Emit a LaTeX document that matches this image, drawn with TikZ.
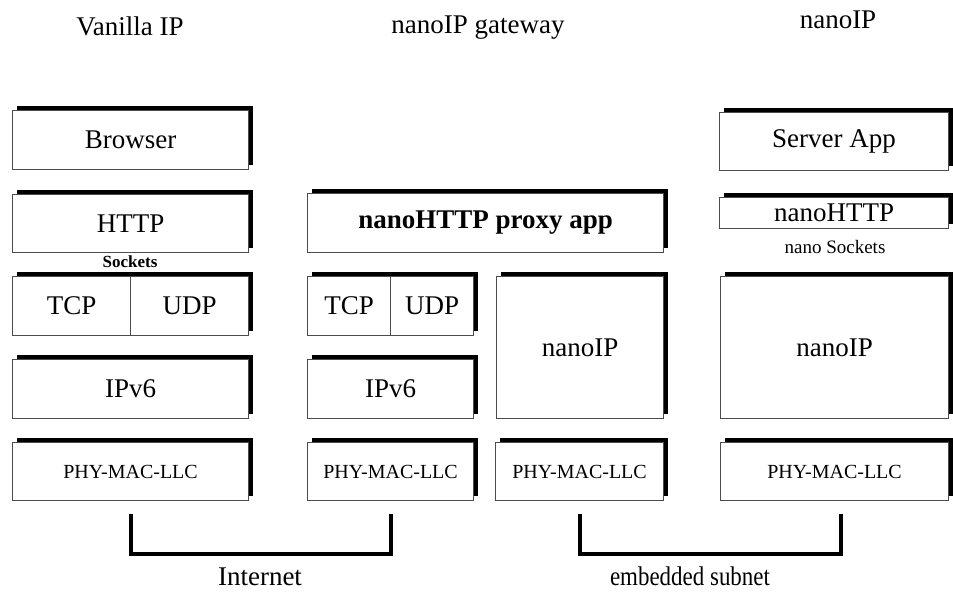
\documentclass[tikz,border=0pt]{standalone}
\usepackage{fontspec}
\setmainfont{Liberation Serif}
\usetikzlibrary{shadows,calc}

\tikzset{
  layer/.style={draw=black!70, line width=1.1pt, fill=white, inner sep=0pt,
    anchor=north west,
    general shadow={fill=black, shadow xshift=4pt, shadow yshift=5pt},
    font=\fontsize{27}{30}\selectfont},
  small layer/.style={layer, font=\fontsize{20}{24}\selectfont},
  heading/.style={font=\fontsize{27}{30}\selectfont, inner sep=0pt, anchor=base},
  tag/.style={inner sep=0pt},
  bracket/.style={line width=4pt, line join=miter}
}

\begin{document}
\begin{tikzpicture}[x=1pt, y=-1pt]
\useasboundingbox (0,0) rectangle (953,592);

% column headings
\node[heading] (h1) at (130,35) {Vanilla IP};
\node[heading] (h2) at (478,33) {nanoIP gateway};
\node[heading] (h3) at (838,28) {nanoIP};

% Vanilla IP stack
\node[layer, minimum width=236pt, minimum height=59pt] (browser) at (12,110) {Browser};
\node[layer, minimum width=236pt, minimum height=58pt] (http) at (12,194) {HTTP};
\node[tag, font=\fontsize{17}{20}\bfseries] (sock) at (130,262) {Sockets};
\node[layer, minimum width=118pt, minimum height=59pt] (tcpa) at (12,276) {TCP};
\node[layer, minimum width=118pt, minimum height=59pt] (udpa) at (130,276) {UDP};
\node[layer, minimum width=236pt, minimum height=59pt] (ipva) at (12,359) {IPv6};
\node[small layer, minimum width=236pt, minimum height=58pt] (phya) at (12,442) {PHY-MAC-LLC};

% gateway stack
\node[layer, minimum width=356pt, minimum height=59pt, font=\fontsize{27}{30}\bfseries] (proxy) at (307,193) {nanoHTTP proxy app};
\node[layer, minimum width=83pt, minimum height=59pt] (tcpb) at (307,276) {TCP};
\node[layer, minimum width=83pt, minimum height=59pt] (udpb) at (390,276) {UDP};
\node[layer, minimum width=166pt, minimum height=59pt] (ipvb) at (307,359) {IPv6};
\node[small layer, minimum width=166pt, minimum height=58pt] (phyb) at (307,442) {PHY-MAC-LLC};
\node[layer, minimum width=167pt, minimum height=142pt] (nipb) at (496,276) {nanoIP};
\node[small layer, minimum width=168pt, minimum height=58pt] (phyc) at (495,442) {PHY-MAC-LLC};

% nanoIP stack
\node[layer, minimum width=229pt, minimum height=58pt] (server) at (719,112) {Server App};
\node[layer, minimum width=229pt, minimum height=31pt] (nhttp) at (719,197) {nanoHTTP};
\node[tag, font=\fontsize{19}{22}\selectfont] (nsock) at (835,247) {nano Sockets};
\node[layer, minimum width=228pt, minimum height=142pt] (nipc) at (720,276) {nanoIP};
\node[small layer, minimum width=228pt, minimum height=58pt] (phyd) at (720,442) {PHY-MAC-LLC};

% links
\draw[bracket] ($(phya.south)+(0,13)$) -- ++(0,40) -| ($(phyb.south)+(0,13)$);
\draw[bracket] ($(phyc.south)+(0,13)$) -- ++(0,40) -| ($(phyd.south)+(6,13)$);
\node[heading] (inet) at (260,585) {Internet};
\node[heading, xscale=0.85, transform shape] (emb) at (690,585) {embedded subnet};
\end{tikzpicture}
\end{document}
